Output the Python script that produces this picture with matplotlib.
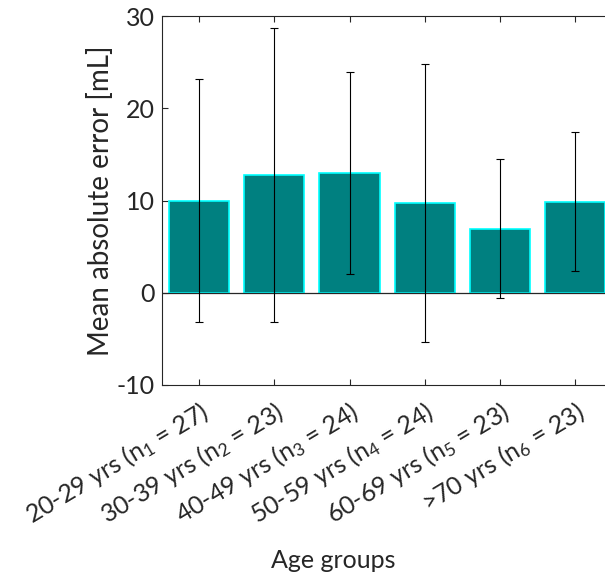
import matplotlib
matplotlib.use("Agg")
import matplotlib.pyplot as plt
import numpy as np

# mean absolute error per age group, with standard deviation
groups = ["20-29 yrs (n$_1$ = 27)", "30-39 yrs (n$_2$ = 23)", "40-49 yrs (n$_3$ = 24)",
          "50-59 yrs (n$_4$ = 24)", "60-69 yrs (n$_5$ = 23)", ">70 yrs (n$_6$ = 23)"]
mae = [10.0, 12.75, 12.96, 9.74, 6.95, 9.85]
sd = [13.15, 15.95, 10.94, 15.07, 7.5, 7.53]

plt.rcParams['font.family'] = ['Lato', 'DejaVu Sans']
plt.rcParams['mathtext.fontset'] = 'custom'
plt.rcParams['mathtext.rm'] = 'Lato'
plt.rcParams['mathtext.it'] = 'Lato'
plt.rcParams['mathtext.default'] = 'rm'
plt.rcParams['axes.unicode_minus'] = False

txt = '#262626'
fig = plt.figure(figsize=(6.05, 5.79), dpi=100)
ax = fig.add_axes([161.7 / 605, 1 - 385 / 579, 450.8 / 605, 369 / 579])

x = np.arange(1, len(mae) + 1)
ax.bar(x, mae, width=0.8, color='#008080', edgecolor='#00ffff', linewidth=1.2, zorder=2)
ax.axhline(0, color=txt, linewidth=0.9, zorder=3)
ax.errorbar(x, mae, yerr=sd, fmt='none', ecolor='black', elinewidth=0.8,
            capsize=3, capthick=0.8, zorder=4)

ax.set_xlim(0.5, 6.5)
ax.set_ylim(-10, 30)
ax.set_yticks([-10, 0, 10, 20, 30])
ax.set_xticks(x)
ax.set_xticklabels(groups, rotation=31, ha='right', rotation_mode='anchor')

for s in ax.spines.values():
    s.set_color(txt)
    s.set_linewidth(0.8)
ax.tick_params(direction='in', length=4, width=0.8, color=txt, labelcolor=txt,
               labelsize=18, top=True, right=True, pad=5)
ax.tick_params(axis='x', pad=9)
ax.set_ylabel('Mean absolute error [mL]', fontsize=20, color=txt, labelpad=2)
ax.set_xlabel('Age groups', fontsize=18, color=txt, va='center')
ax.xaxis.set_label_coords((333 - 161.7) / 450.8, -(561 - 385) / 369)

fig.savefig('out.png', dpi=100)
